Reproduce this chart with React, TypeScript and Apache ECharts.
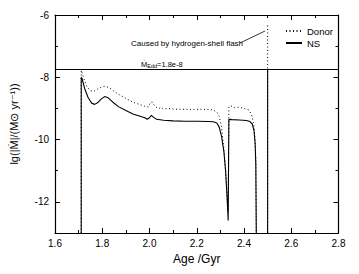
import React, { useEffect, useRef } from "react";
import * as echarts from "echarts";

type Pt = [number, number | string];

// Donor mass-transfer rate, lg(|Mdot|) vs age (Gyr)
const donorPoints: Pt[] = [
  [1.711, -13], [1.711, -7.78], [1.715, -7.86], [1.722, -8.05], [1.735, -8.3],
  [1.75, -8.43], [1.765, -8.45], [1.78, -8.38], [1.795, -8.32], [1.81, -8.29],
  [1.83, -8.33], [1.85, -8.45], [1.87, -8.55], [1.9, -8.68], [1.93, -8.8],
  [1.96, -8.88], [1.98, -8.93], [1.995, -8.95], [2.005, -8.8], [2.012, -8.8],
  [2.025, -8.95], [2.04, -9.0], [2.05, -8.97], [2.06, -9.02], [2.08, -9.0],
  [2.1, -9.02], [2.15, -9.03], [2.2, -9.03], [2.25, -9.03], [2.27, -9.05],
  [2.285, -9.12], [2.295, -9.25], [2.305, -9.6], [2.315, -10.3], [2.322, -11.0],
  [2.33, -12.0], [2.333, -12.3], [2.336, -8.94], [2.345, -8.92], [2.36, -8.97],
  [2.38, -8.96], [2.4, -9.0], [2.42, -9.05], [2.432, -9.2], [2.44, -9.45],
  [2.446, -9.9], [2.45, -10.6], [2.452, -13], [2.47, "-"], [2.5, -13], [2.5, -6.3],
];

// Neutron-star accretion rate
const nsPoints: Pt[] = [
  [1.711, -13], [1.711, -8.0], [1.715, -8.05], [1.725, -8.35], [1.74, -8.65],
  [1.755, -8.83], [1.768, -8.87], [1.78, -8.82], [1.795, -8.7], [1.81, -8.62],
  [1.825, -8.66], [1.845, -8.8], [1.87, -8.95], [1.9, -9.07], [1.93, -9.18],
  [1.96, -9.25], [1.98, -9.3], [1.99, -9.35], [2.0, -9.3], [2.008, -9.22],
  [2.015, -9.27], [2.03, -9.35], [2.06, -9.38], [2.1, -9.4], [2.15, -9.41],
  [2.2, -9.41], [2.25, -9.42], [2.27, -9.43], [2.285, -9.47], [2.295, -9.6],
  [2.305, -9.9], [2.315, -10.4], [2.322, -11.0], [2.328, -11.8], [2.333, -12.6],
  [2.336, -9.35], [2.35, -9.36], [2.38, -9.37], [2.41, -9.39], [2.425, -9.42],
  [2.435, -9.5], [2.442, -9.7], [2.447, -10.1], [2.45, -10.8], [2.452, -13],
  [2.47, "-"], [2.5, -13], [2.5, -7.745],
];

const eddingtonLg = -7.745;
const seriesNames = ["Donor", "NS"];
const yMajor = [-12, -10, -8, -6];
const yMinor = [-11, -9, -7];
const annotationText = "Caused by hydrogen-shell flash";

const FONT = "Liberation Sans, Arial, sans-serif";

export default function App() {
  const ref = useRef<HTMLDivElement>(null);
  useEffect(() => {
    if (!ref.current) return;
    const chart = echarts.init(ref.current, null, { renderer: "svg" });
    const lineStyle = { color: "#000", width: 1.2 };
    const baseX = {
      type: "value",
      min: 1.6,
      max: 2.8,
      interval: 0.2,
      splitLine: { show: false },
      axisLine: { show: true, onZero: false, lineStyle },
      axisTick: { show: true, inside: true, length: 5, lineStyle: { color: "#000", width: 1 } },
      minorTick: { show: true, splitNumber: 2, length: 3, lineStyle: { color: "#000", width: 1 } },
    };
    const yCommon = {
      type: "value",
      min: -13,
      max: -6,
      interval: 1,
      splitLine: { show: false },
    };
    const option: any = {
      animation: false,
      backgroundColor: "#fff",
      textStyle: { fontFamily: FONT },
      grid: { left: 46.5, right: 20.5, top: 15, bottom: 41 },
      legend: {
        data: seriesNames,
        orient: "vertical",
        left: 280,
        top: 21,
        itemWidth: 16,
        itemHeight: 8,
        itemGap: 2,
        itemStyle: { opacity: 0 },
        textStyle: { fontSize: 9.5, color: "#000", fontFamily: FONT },
      },
      xAxis: [
        {
          ...baseX,
          position: "bottom",
          name: "Age /Gyr",
          nameLocation: "middle",
          nameGap: 7,
          nameTextStyle: { fontSize: 12, color: "#000", fontFamily: FONT },
          axisLabel: {
            color: "#000",
            fontSize: 10,
            margin: 5,
            fontFamily: FONT,
            formatter: (v: number) => v.toFixed(1),
          },
        },
        { ...baseX, position: "top", axisLabel: { show: false } },
      ],
      yAxis: [
        {
          ...yCommon,
          position: "left",
          axisLine: { show: true, onZero: false, lineStyle },
          axisTick: { show: true, inside: true, length: 5, customValues: yMajor, lineStyle: { color: "#000" } },
          axisLabel: { color: "#000", fontSize: 10, margin: 6, fontFamily: FONT, customValues: yMajor },
          name: "lg(|Ṁ|/(M⊙ yr⁻¹))",
          nameLocation: "middle",
          nameGap: 36,
          nameTextStyle: { fontSize: 11, color: "#000", fontFamily: FONT },
        },
        {
          ...yCommon,
          position: "left",
          axisLine: { show: false },
          axisTick: { show: true, inside: true, length: 3, customValues: yMinor, lineStyle: { color: "#000" } },
          axisLabel: { show: false },
        },
        {
          ...yCommon,
          position: "right",
          axisLine: { show: true, onZero: false, lineStyle },
          axisTick: { show: true, inside: true, length: 5, customValues: yMajor, lineStyle: { color: "#000" } },
          axisLabel: { show: false },
        },
        {
          ...yCommon,
          position: "right",
          axisLine: { show: false },
          axisTick: { show: true, inside: true, length: 3, customValues: yMinor, lineStyle: { color: "#000" } },
          axisLabel: { show: false },
        },
      ],
      series: [
        {
          name: seriesNames[0],
          type: "line",
          data: donorPoints,
          symbol: "none",
          connectNulls: false,
          lineStyle: { color: "#000", width: 1, type: [1, 2.5] },
          itemStyle: { color: "#000" },
          z: 2,
        },
        {
          name: seriesNames[1],
          type: "line",
          data: nsPoints,
          symbol: "none",
          connectNulls: false,
          lineStyle: { color: "#000", width: 1.1, type: "solid" },
          itemStyle: { color: "#000" },
          z: 3,
          markLine: {
            silent: true,
            symbol: "none",
            label: { show: false },
            lineStyle: { color: "#000", width: 1, type: "solid" },
            data: [{ yAxis: eddingtonLg }],
          },
        },
      ],
      graphic: [
        {
          type: "text",
          x: 131,
          y: 43,
          style: {
            text: annotationText,
            fontSize: 8,
            fontFamily: FONT,
            fill: "#000",
            align: "left",
            verticalAlign: "middle",
          },
        },
        {
          type: "line",
          shape: { x1: 240, y1: 43, x2: 265, y2: 31 },
          style: { stroke: "#000", lineWidth: 0.8 },
        },
        {
          type: "text",
          x: 141,
          y: 69,
          style: {
            text: "{a|Ṁ}{b|Edd}{a|=1.8e-8}",
            fill: "#000",
            verticalAlign: "bottom",
            align: "left",
            rich: {
              a: { fontSize: 7.5, fontFamily: FONT, fill: "#000" },
              b: { fontSize: 5.5, fontFamily: FONT, fill: "#000", verticalAlign: "bottom", padding: [3, 0, 0, 0] },
            },
          },
        },
      ],
    };
    chart.setOption(option);
    return () => chart.dispose();
  }, []);
  return (
    <div
      ref={ref}
      style={{ position: "fixed", left: 0, top: 0, width: 359, height: 274, background: "#fff" }}
    />
  );
}
